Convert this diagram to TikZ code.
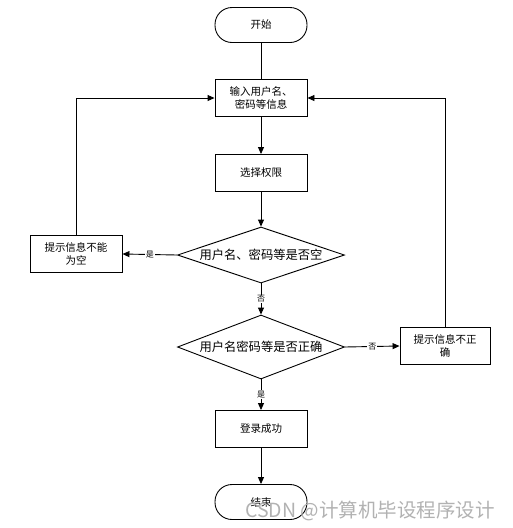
\documentclass[tikz,border=0pt]{standalone}
\usepackage{fontspec}
\setmainfont{Noto Sans CJK SC}
\usetikzlibrary{shapes.geometric,arrows.meta}
\begin{document}
\begin{tikzpicture}[x=1pt,y=-1pt,
 box/.style={draw,line width=0.9pt,minimum width=92pt,minimum height=37pt,inner sep=1pt,align=center,font=\fontsize{10.5}{13}\selectfont},
 term/.style={box,rounded corners=17pt,minimum height=35pt},
 dec/.style={draw,diamond,line width=0.9pt,minimum width=167pt,inner sep=0pt},
 dtext/.style={font=\fontsize{12.3}{14}\selectfont,inner sep=0pt},
 arr/.style={line width=0.9pt,-{Triangle[length=7pt,width=6pt]}},
 ln/.style={line width=0.9pt},
 lbl/.style={font=\fontsize{8}{8}\selectfont,fill=white,inner sep=1pt},
 wm/.style={text=gray!60,font=\fontsize{19.5}{20}\selectfont,inner sep=0pt}]
\fill[white] (0,0) rectangle (512,528);
\useasboundingbox (0,0) rectangle (512,528);
\node[term] (start) at (261,25) {开始};
\node[box] (input) at (261,98) {输入用户名、\\密码等信息};
\node[box] (sel) at (261,173) {选择权限};
\node[dec,minimum height=56pt] (d1) at (261,255) {};
\node[dtext] (d1t) at (d1.center) {用户名、密码等是否空};
\node[box] (lb) at (76,254) {提示信息不能\\为空};
\node[dec,minimum height=64pt] (d2) at (261,347) {};
\node[dtext] (d2t) at (d2.center) {用户名密码等是否正确};
\node[box,minimum width=90pt] (rb) at (445,346) {提示信息不正\\确};
\node[box] (ok) at (261,429) {登录成功};
\node[term] (end) at (261,502) {结束};
\coordinate (lc) at (lb.north |- input.west);
\coordinate (rc) at (rb.north |- input.east);
\draw[ln] (start) -- (input);
\draw[arr] (input) -- (sel);
\draw[arr] (sel) -- (d1);
\draw[arr] (d1.west) -- node[lbl]{是} (lb.east);
\draw[arr] (d1.south) -- node[lbl]{否} (d2.north);
\draw[arr] (d2.east) -- node[lbl]{否} (rb.west);
\draw[arr] (d2.south) -- node[lbl]{是} (ok.north);
\draw[arr] (ok) -- (end);
\draw[arr] (lb.north) -- (lc) -- (input.west);
\draw[arr] (rb.north) -- (rc) -- (input.east);
\node[wm,anchor=west] (wmark) at (245,511) {CSDN @计算机毕设程序设计};
\end{tikzpicture}
\end{document}
